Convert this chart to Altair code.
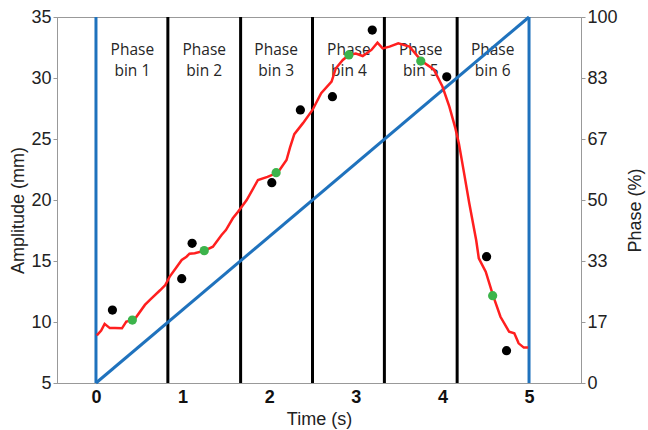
import altair as alt
import pandas as pd

# Amplitude trace (red)
red_t = [0.01, 0.06, 0.10, 0.16, 0.22, 0.30, 0.35, 0.44, 0.565, 0.62, 0.74, 0.80, 0.85, 0.99, 1.045,
         1.08, 1.14, 1.256, 1.35, 1.45, 1.50, 1.58, 1.64, 1.74, 1.87, 1.98, 2.10, 2.20, 2.24, 2.29,
         2.39, 2.50, 2.60, 2.72, 2.77, 2.85, 2.92, 3.00, 3.08, 3.18, 3.25, 3.31, 3.39, 3.49, 3.62,
         3.76, 3.90, 4.00, 4.08, 4.15, 4.19, 4.25, 4.31, 4.39, 4.42, 4.50, 4.585, 4.67, 4.77, 4.83,
         4.88, 4.94, 4.99]
red_mm = [8.9, 9.3, 9.85, 9.5, 9.5, 9.48, 10.03, 10.16, 11.4, 11.8, 12.6, 13.03, 13.7, 15.08, 15.35,
          15.6, 15.63, 15.85, 16.17, 17.13, 17.54, 18.5, 19.04, 20.0, 21.64, 21.9, 22.25, 23.28, 24.3, 25.4,
          26.3, 27.38, 28.75, 29.7, 30.8, 31.48, 31.89, 32.0, 31.8, 32.3, 32.9, 32.43, 32.57, 32.84, 32.57,
          31.39, 30.7, 29.3, 27.65, 25.87, 24.64, 22.2, 19.73, 16.7, 15.22, 14.12, 12.16, 10.43, 9.2, 9.07,
          8.25, 7.9, 7.9]

# Black measured points
black_t = [0.19, 0.99, 1.11, 2.03, 2.36, 2.73, 3.19, 4.05, 4.51, 4.74]
black_mm = [10.98, 13.55, 16.45, 21.42, 27.38, 28.47, 33.93, 30.1, 15.35, 7.65]

# Green bin-centre points
green_t = [0.42, 1.25, 2.08, 2.92, 3.75, 4.58]
green_mm = [10.16, 15.85, 22.24, 31.89, 31.39, 12.16]

# Phase bin boundaries and labels
bin_edges = [0.83, 1.67, 2.5, 3.33, 4.17]
cycle_edges = [0, 5]
bin_centers = [0.42, 1.25, 2.08, 2.92, 3.75, 4.58]
bin_labels = ["Phase\nbin 1", "Phase\nbin 2", "Phase\nbin 3", "Phase\nbin 4", "Phase\nbin 5", "Phase\nbin 6"]
label_mm = [31.9] * 6

# Phase ramp
ramp_t = [0, 5]
ramp_phase = [0, 100]

x_ticks = [0, 1, 2, 3, 4, 5]
y_ticks = [5, 10, 15, 20, 25, 30, 35]
phase_ticks = [0, 100 / 6, 200 / 6, 50, 400 / 6, 500 / 6, 100]

BLUE = "#1f72bd"
RED = "#ff1f1f"
GREEN = "#3cb44b"
FONT = "Liberation Sans"

red_df = pd.DataFrame({"t": red_t, "mm": red_mm})
black_df = pd.DataFrame({"t": black_t, "mm": black_mm})
green_df = pd.DataFrame({"t": green_t, "mm": green_mm})
edges_df = pd.DataFrame({"t": bin_edges})
cyc_df = pd.DataFrame({"t": cycle_edges})
lab_df = pd.DataFrame({"t": bin_centers, "mm": label_mm, "label": bin_labels})
ramp_df = pd.DataFrame({"t": ramp_t, "phase": ramp_phase})

xscale = alt.Scale(domain=[-0.45, 5.6], nice=False, zero=False)
yscale = alt.Scale(domain=[5, 35], nice=False, zero=False)

x_axis = alt.Axis(values=x_ticks, title="Time (s)", labelFont=FONT, titleFont=FONT,
                  labelFontSize=18, labelFontWeight="bold", labelColor="#111",
                  titleFontSize=18, titleFontWeight="normal", titleColor="#222",
                  tickSize=0, labelPadding=5, titlePadding=4, grid=False,
                  domainColor="#999")
x_enc = alt.X("t:Q", scale=xscale, axis=x_axis)

left_axis = alt.Axis(values=y_ticks, title="Amplitude (mm)", labelFont=FONT, titleFont=FONT,
                     labelFontSize=18, labelColor="#222", titleFontSize=18,
                     titleFontWeight="normal", titleColor="#222", tickSize=4,
                     tickColor="#999", labelPadding=2, grid=False, domainColor="#999",
                     titleAngle=270, titleX=-39, titleY=193, titleAlign="center",
                     titleBaseline="middle")

right_axis = alt.Axis(values=phase_ticks, orient="right", title="Phase (%)",
                      labelExpr="format(datum.value, '.0f')", labelFont=FONT, titleFont=FONT,
                      labelFontSize=18, labelColor="#222", titleFontSize=18,
                      titleFontWeight="normal", titleColor="#222", tickSize=4,
                      tickColor="#999", labelPadding=2, grid=False, domainColor="#999",
                      titleAngle=270, titleX=54, titleY=193, titleAlign="center",
                      titleBaseline="middle")

texts = alt.Chart(lab_df).mark_text(
    font="Open Sans", fontSize=15.5, color="#262626", lineBreak="\n", lineHeight=21,
    align="center", baseline="alphabetic"
).encode(x=x_enc, y=alt.Y("mm:Q", scale=yscale, axis=left_axis), text="label:N")

black_rules = alt.Chart(edges_df).mark_rule(color="black", strokeWidth=3).encode(x=x_enc)
blue_rules = alt.Chart(cyc_df).mark_rule(color=BLUE, strokeWidth=3).encode(x=x_enc)

ramp = alt.Chart(ramp_df).mark_line(color=BLUE, strokeWidth=3).encode(
    x=x_enc, y=alt.Y("phase:Q", scale=alt.Scale(domain=[0, 100], nice=False), axis=right_axis)
)

red = alt.Chart(red_df).mark_line(color=RED, strokeWidth=2.5, interpolate="linear").encode(
    x=x_enc, y=alt.Y("mm:Q", scale=yscale, axis=None)
)
blk = alt.Chart(black_df).mark_circle(color="black", size=85, opacity=1).encode(
    x=x_enc, y=alt.Y("mm:Q", scale=yscale, axis=None)
)
grn = alt.Chart(green_df).mark_circle(color=GREEN, size=85, opacity=1).encode(
    x=x_enc, y=alt.Y("mm:Q", scale=yscale, axis=None)
)

chart = alt.layer(texts, black_rules, blue_rules, ramp, red, blk, grn).resolve_scale(
    y="independent"
).properties(
    width=524, height=366,
    autosize=alt.AutoSizeParams(type="none"),
    padding={"left": 57, "top": 17, "right": 67, "bottom": 47},
    background="white",
).configure_view(stroke="#999", strokeWidth=1)

chart.save("out.html", embed_options={"renderer": "svg", "actions": False})
